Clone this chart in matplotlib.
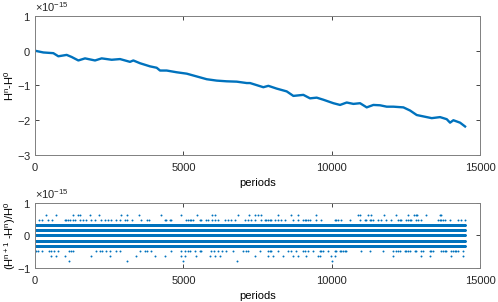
import numpy as np
import matplotlib
matplotlib.use("Agg")
import matplotlib.pyplot as plt
from matplotlib.ticker import ScalarFormatter

# energie H^n - H^0 (unites de 1e-15)
periods_top = [0, 281, 618, 787, 1068, 1236, 1461, 1686, 2023, 2247, 2585, 2866,
               3202, 3314, 3540, 3877, 4101, 4214, 4439, 4776, 5114, 5451, 5788,
               6125, 6462, 6800, 7136, 7248, 7697, 7866, 8147, 8484, 8708, 9045,
               9270, 9495, 9720, 10057, 10282, 10507, 10732, 10956, 11181, 11405,
               11630, 11855, 12080, 12417, 12641, 12866, 13203, 13372, 13653,
               13878, 13990, 14102, 14327, 14496]
drift = [0.0, -0.05, -0.07, -0.16, -0.12, -0.18, -0.28, -0.22, -0.28, -0.22,
         -0.26, -0.24, -0.32, -0.28, -0.36, -0.45, -0.49, -0.57, -0.57, -0.62,
         -0.66, -0.74, -0.82, -0.86, -0.88, -0.89, -0.93, -0.93, -1.05, -1.01,
         -1.09, -1.17, -1.30, -1.27, -1.37, -1.35, -1.41, -1.51, -1.56, -1.49,
         -1.53, -1.51, -1.63, -1.56, -1.57, -1.61, -1.61, -1.63, -1.72, -1.85,
         -1.91, -1.94, -1.91, -1.97, -2.07, -2.00, -2.07, -2.18]

# increments (H^{n+1}-H^n)/H^0 : niveaux discrets, pas ~0.155e-15
step = 0.155
dense_levels = [-2, -1, 0, 1, 2]
n_periods = 14500
lvl_p4 = [360, 700, 1280, 1450, 1510, 1840, 2150, 2910, 3100, 3510, 4260, 4910,
          5460, 5980, 6060, 6840, 7210, 7410, 7520, 7630, 8190, 8640, 8870,
          9460, 10890, 10970, 11230, 11340, 11750, 12160, 12570, 12770, 12830,
          12880, 13170, 13640, 13700]
lvl_p3 = [120, 250, 440, 570, 1000, 1060, 1110, 1170, 1280, 1340, 1510, 1620,
          1730, 1900, 2010, 2240, 2350, 2460, 2570, 2740, 2880, 3020, 3100,
          3280, 3580, 3780, 3840, 4370, 4430, 4540, 4590, 5080, 5160, 5210,
          5270, 5330, 5550, 5610, 5770, 5830, 5980, 6060, 6170, 6390, 6510,
          6620, 6730, 7070, 7180, 7290, 7410, 7630, 7740, 7800, 7850, 7910,
          7970, 8080, 8190, 8300, 8420, 8700, 8870, 9030, 9090, 9150, 9200,
          9260, 9480, 9650, 10100, 10160, 10210, 10330, 10610, 10950, 11110,
          11170, 11280, 11340, 11390, 11560, 11670, 11840, 12010, 12240, 12290,
          12350, 12520, 12570, 12630, 12690, 12850, 12910, 13020, 13590, 13640,
          13700, 13750, 13810, 13980, 14260, 14370, 14480]
lvl_m3 = [20, 100, 250, 470, 550, 630, 780, 1150, 1200, 1280, 2050, 2180, 2270,
          2400, 2540, 2740, 2880, 3530, 3700, 3780, 3920, 4590, 4930, 5050,
          5160, 5210, 5380, 5550, 5610, 5940, 6020, 6170, 6310, 6450, 6670,
          7010, 7120, 7180, 7570, 7850, 7910, 7970, 8190, 8530, 8640, 8810,
          9030, 9090, 9200, 9370, 9600, 9650, 9710, 9880, 10100, 10160, 10270,
          10330, 10380, 10440, 10490, 11000, 11280, 11730, 12070, 12160, 12240,
          12290, 12460, 12520, 12570, 12630, 12800, 12850, 13020, 13080, 13310,
          13360, 13420, 13700, 13750, 13810, 13870, 14030, 14090, 14150, 14200,
          14260, 14430]
lvl_m4 = [550, 720, 1000, 1900, 2540, 3410, 4040, 4370, 4930, 5050, 5440, 5910,
          6060, 6230, 7410, 7850, 8020, 8360, 8700, 8870, 9130, 9540, 9600,
          9990, 10100, 12080, 13020, 13310, 14030, 14430]
lvl_m5 = [1150, 3090, 4990, 6810, 10020]

blue = '#0072BD'
grey = '#262626'
plt.rcParams['font.family'] = ['Liberation Sans', 'DejaVu Sans']
plt.rcParams['font.size'] = 8
plt.rcParams['mathtext.fontset'] = 'custom'
plt.rcParams['mathtext.rm'] = 'Liberation Sans'
plt.rcParams['mathtext.it'] = 'Liberation Sans'

fig = plt.figure(figsize=(4.98, 3.02), dpi=100)
ax1 = fig.add_axes([0.0703, 0.4868, 0.8936, 0.4603])
ax2 = fig.add_axes([0.0703, 0.1126, 0.8936, 0.2152])

ax1.plot(periods_top, np.array(drift) * 1e-15, color=blue, lw=1.7)
ax1.set_ylim(-3e-15, 1e-15)
ax1.set_yticks(np.array([-3, -2, -1, 0, 1]) * 1e-15)
ax1.set_ylabel('H$^n$-H$^0$')
ax1.yaxis.set_label_coords(-0.042, 0.5)

all_p = np.arange(0, n_periods, 5)
for k in dense_levels:
    ax2.plot(all_p, np.full(len(all_p), k * step * 1e-15), 'o', color=blue, ms=1.6, mew=0)
for k, pts in [(4, lvl_p4), (3, lvl_p3), (-3, lvl_m3), (-4, lvl_m4), (-5, lvl_m5)]:
    ax2.plot(pts, np.full(len(pts), k * step * 1e-15), 'o', color=blue, ms=1.4, mew=0)
ax2.set_ylim(-1e-15, 1e-15)
ax2.set_yticks(np.array([-1, 0, 1]) * 1e-15)
ax2.set_ylabel('(H$^{n+1}$ -H$^n$)/H$^0$')
ax2.yaxis.set_label_coords(-0.038, 0.5)

for ax in (ax1, ax2):
    ax.set_xlim(0, 15000)
    ax.set_xticks([0, 5000, 10000, 15000])
    ax.set_xlabel('periods', labelpad=4)
    fmt = ScalarFormatter(useMathText=True)
    ax.yaxis.set_major_formatter(fmt)
    ax.tick_params(direction='in', length=3, width=0.6, top=True, right=True,
                   colors=grey, labelcolor=grey)
    ax.tick_params(axis='x', pad=5.5)
    ax.tick_params(axis='y', pad=3)
    for s in ax.spines.values():
        s.set_color('0.5')
        s.set_linewidth(0.7)

fig.savefig('out.png', dpi=100)
